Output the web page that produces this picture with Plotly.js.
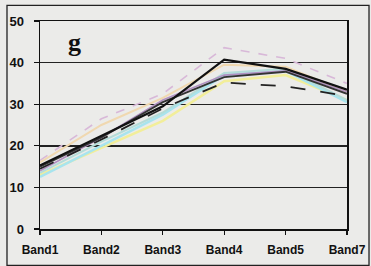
<!DOCTYPE html>
<html>
<head>
<meta charset="utf-8">
<script src="https://cdn.plot.ly/plotly-3.0.1.min.js"></script>
<style>html,body{margin:0;padding:0;background:#ebebe9;}#chart{width:371px;height:266px;}</style>
</head>
<body>
<div id="chart"></div>
<script>
var categories = ["Band1", "Band2", "Band3", "Band4", "Band5", "Band7"];
var pinkSeries   = [16.5, 26.5, 32.5, 43.6, 41.0, 35.0];
var peachSeries  = [16.0, 25.0, 31.5, 39.5, 39.0, 33.0];
var blackSeries1 = [15.3, 22.5, 29.5, 40.7, 38.5, 33.5];
var blackSeries2 = [15.0, 22.0, 30.5, 36.5, 37.8, 32.5];
var blackSeries3 = [14.5, 21.5, 29.0, 35.2, 34.3, 32.0];
var purpleSeries = [14.0, 22.0, 31.0, 37.0, 38.0, 33.0];
var yellowSeries = [13.0, 19.5, 26.0, 35.5, 37.0, 31.0];
var cyanSeries   = [12.5, 20.0, 27.5, 37.0, 38.0, 30.5];
var tealSeries   = [13.5, 21.0, 28.0, 37.5, 38.5, 31.0];
var yTicks = [0, 10, 20, 30, 40, 50];

function tr(y, color, width, dash) {
  return {x: categories, y: y, type: 'scatter', mode: 'lines',
          line: {color: color, width: width, dash: dash || 'solid'}, hoverinfo: 'none'};
}
var data = [
  tr(pinkSeries, '#d8b8d8', 1.6, 'dash'),
  tr(peachSeries, '#f0d8b0', 2),
  tr(yellowSeries, '#f2ee9a', 2.5),
  tr(cyanSeries, '#a8e4ee', 2.5),
  tr(tealSeries, '#b4dcd8', 2),
  tr(purpleSeries, '#b090c0', 1.6),
  tr(blackSeries3, '#222222', 1.8, 'longdash'),
  tr(blackSeries2, '#333333', 1.8),
  tr(blackSeries1, '#111111', 2.2)
];
var layout = {
  width: 371, height: 266,
  margin: {l: 40, r: 24, t: 21, b: 37},
  paper_bgcolor: '#ebebe9', plot_bgcolor: '#ebebe9',
  showlegend: false,
  font: {family: 'Liberation Sans, Arial, sans-serif', size: 12, color: '#111'},
  xaxis: {type: 'category', range: [0, 5], showgrid: false, showline: true, linecolor: '#111', linewidth: 1.5,
          ticks: 'outside', ticklen: 4, tickcolor: '#111', tickwidth: 1.3, mirror: true, ticklabelstandoff: 5,
          tickfont: {size: 12, color: '#111', weight: 'bold'}, fixedrange: true},
  yaxis: {range: [0, 50], tickvals: yTicks, ticktext: yTicks.map(String), showgrid: true, gridcolor: '#222', gridwidth: 1.4,
          showline: true, linecolor: '#111', linewidth: 1.5, mirror: true, zeroline: false,
          ticks: 'outside', ticklen: 5, tickcolor: '#111', tickwidth: 1.3, ticklabelstandoff: 7,
          tickfont: {size: 13, color: '#111', weight: 'bold'}, fixedrange: true},
  annotations: [{text: '<b>g</b>', xref: 'paper', yref: 'paper', x: 0.085, y: 0.975, xanchor: 'left', yanchor: 'top',
                 showarrow: false, font: {family: 'Liberation Serif, Times New Roman, serif', size: 26, color: '#111'}}],
  shapes: [{type: 'rect', xref: 'paper', yref: 'paper', x0: -0.1075, x1: 1.0717, y0: -0.175, y1: 1.075,
            line: {color: '#222', width: 1.3}, fillcolor: 'rgba(0,0,0,0)'}]
};
Plotly.newPlot('chart', data, layout, {displayModeBar: false, staticPlot: true});
</script>
</body>
</html>
